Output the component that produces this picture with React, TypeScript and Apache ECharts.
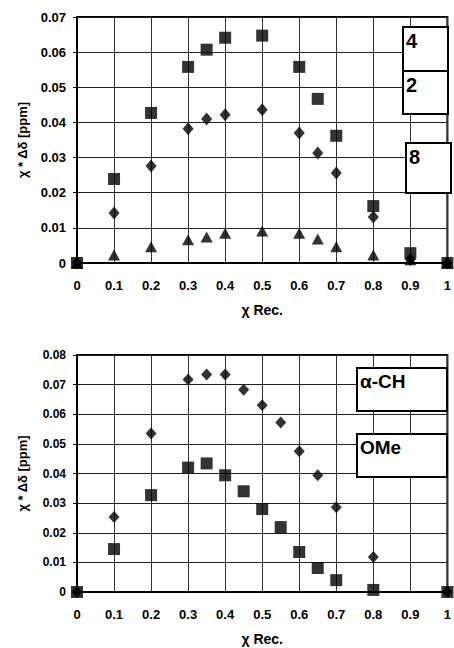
import React, { useEffect, useRef } from "react";
import * as echarts from "echarts";

// Top chart
const topX4 = [0, 0.1, 0.2, 0.3, 0.35, 0.4, 0.5, 0.6, 0.65, 0.7, 0.8, 0.9, 1];
const topY4 = [0, 0.0239, 0.0427, 0.0558, 0.0607, 0.0641, 0.0647, 0.0558, 0.0467, 0.0362, 0.0162, 0.0028, 0];
const topX2 = [0, 0.1, 0.2, 0.3, 0.35, 0.4, 0.5, 0.6, 0.65, 0.7, 0.8, 0.9, 1];
const topY2 = [0, 0.0142, 0.0276, 0.0382, 0.041, 0.0422, 0.0436, 0.037, 0.0313, 0.0256, 0.0131, 0.001, 0];
const topX8 = [0, 0.1, 0.2, 0.3, 0.35, 0.4, 0.5, 0.6, 0.65, 0.7, 0.8, 0.9, 1];
const topY8 = [0, 0.0023, 0.0046, 0.0066, 0.0074, 0.0085, 0.0091, 0.0085, 0.0068, 0.0046, 0.0023, 0.0009, 0];

// Bottom chart
const botXCH = [0, 0.1, 0.2, 0.3, 0.35, 0.4, 0.45, 0.5, 0.55, 0.6, 0.65, 0.7, 0.8, 1];
const botYCH = [0, 0.0253, 0.0535, 0.0717, 0.0734, 0.0734, 0.0683, 0.063, 0.0572, 0.0475, 0.0394, 0.0286, 0.0118, 0];
const botXOMe = [0, 0.1, 0.2, 0.3, 0.35, 0.4, 0.45, 0.5, 0.55, 0.6, 0.65, 0.7, 0.8, 1];
const botYOMe = [0, 0.0145, 0.0327, 0.042, 0.0434, 0.0394, 0.034, 0.028, 0.0219, 0.0135, 0.0081, 0.004, 0.0007, 0];

const xTicks = ["0", "0.1", "0.2", "0.3", "0.4", "0.5", "0.6", "0.7", "0.8", "0.9", "1"];
const topLegend = ["4", "2", "8"];
const botLegend = ["α-CH", "OMe"];
const xTitle = "χ Rec.";
const yTitle = "χ * Δδ [ppm]";

const FONT = "'Liberation Sans', Arial, sans-serif";

function pairs(xs: number[], ys: number[]) {
  return xs.map((x, i) => [x, ys[i]]);
}

const TRI = "path://M5,0 L10,9 L0,9 Z";

export default function App() {
  const ref = useRef<HTMLDivElement>(null);
  useEffect(() => {
    if (!ref.current) return;
    const chart = echarts.init(ref.current, null, { renderer: "svg" });
    const xAxisBase = (gi: number) => ({
      type: "value",
      gridIndex: gi,
      min: 0,
      max: 1,
      interval: 0.1,
      name: xTitle,
      nameLocation: "middle",
      nameGap: 40,
      nameTextStyle: { fontFamily: FONT, fontWeight: "bold", fontSize: 14, color: "#000" },
      axisLine: { show: true, onZero: false, lineStyle: { color: "#000", width: 2 } },
      axisTick: { show: false },
      axisLabel: {
        margin: 16,
        fontFamily: FONT,
        fontWeight: "bold",
        fontSize: 13,
        color: "#000",
        formatter: (v: number) => xTicks[Math.round(v * 10)] ?? "",
      },
      splitLine: { show: true, lineStyle: { color: "#333", width: 1 } },
    });
    const yAxisBase = (gi: number, max: number, fs: number) => ({
      type: "value",
      gridIndex: gi,
      min: 0,
      max,
      interval: 0.01,
      name: yTitle,
      nameLocation: "middle",
      nameGap: 48,
      nameTextStyle: { fontFamily: FONT, fontWeight: "bold", fontSize: 13, color: "#000" },
      axisLine: { show: true, lineStyle: { color: "#000", width: 2 } },
      axisTick: { show: true, inside: false, length: 4, lineStyle: { color: "#000" } },
      axisLabel: {
        margin: 11,
        fontFamily: FONT,
        fontWeight: "bold",
        fontSize: fs,
        color: "#000",
        formatter: (v: number) => (v === 0 ? "0" : v.toFixed(2)),
      },
      splitLine: { show: true, lineStyle: { color: "#222", width: 1 } },
    });
    const sc = (name: string, xi: number, data: number[][], symbol: string, size: number | number[]) => ({
      type: "scatter",
      name,
      xAxisIndex: xi,
      yAxisIndex: xi,
      data,
      symbol,
      symbolSize: size,
      clip: false,
      itemStyle: { color: "#000" },
    });
    const box = (x: number, y: number, w: number, h: number, label: string, fs: number) => ({
      type: "group",
      children: [
        {
          type: "rect",
          shape: { x, y, width: w, height: h },
          style: { fill: "#fff", stroke: "#000", lineWidth: 2 },
          z: 100,
        },
        {
          type: "text",
          x: x + 3,
          y: y + 4,
          style: { text: label, fontFamily: FONT, fontWeight: "bold", fontSize: fs, fill: "#000" },
          z: 101,
        },
      ],
    });
    chart.setOption({
      animation: false,
      backgroundColor: "#fff",
      grid: [
        { left: 77, top: 17, width: 372, height: 246, show: true, borderColor: "#000", borderWidth: 2, backgroundColor: "transparent" },
        { left: 77, top: 355, width: 371, height: 237, show: true, borderColor: "#000", borderWidth: 2, backgroundColor: "transparent" },
      ],
      xAxis: [xAxisBase(0), xAxisBase(1)],
      yAxis: [yAxisBase(0, 0.07, 13), yAxisBase(1, 0.08, 12)],
      series: [
        sc("8", 0, pairs(topX8, topY8), TRI, [12, 11]),
        sc("2", 0, pairs(topX2, topY2), "diamond", [11, 13]),
        sc("4", 0, pairs(topX4, topY4), "rect", 12),
        sc("α-CH", 1, pairs(botXCH, botYCH), "diamond", [11, 12]),
        sc("OMe", 1, pairs(botXOMe, botYOMe), "rect", 12),
      ],
      graphic: [
        box(403, 27, 45, 44, topLegend[0], 20),
        box(403, 71, 45, 43, topLegend[1], 20),
        box(406, 143, 45, 50, topLegend[2], 20),
        box(357, 368, 90, 43, botLegend[0], 19),
        box(357, 434, 90, 43, botLegend[1], 19),
      ],
    });
    return () => chart.dispose();
  }, []);
  return (
    <div
      ref={ref}
      style={{ position: "fixed", left: 0, top: 0, width: 454, height: 648, background: "#fff" }}
    />
  );
}
